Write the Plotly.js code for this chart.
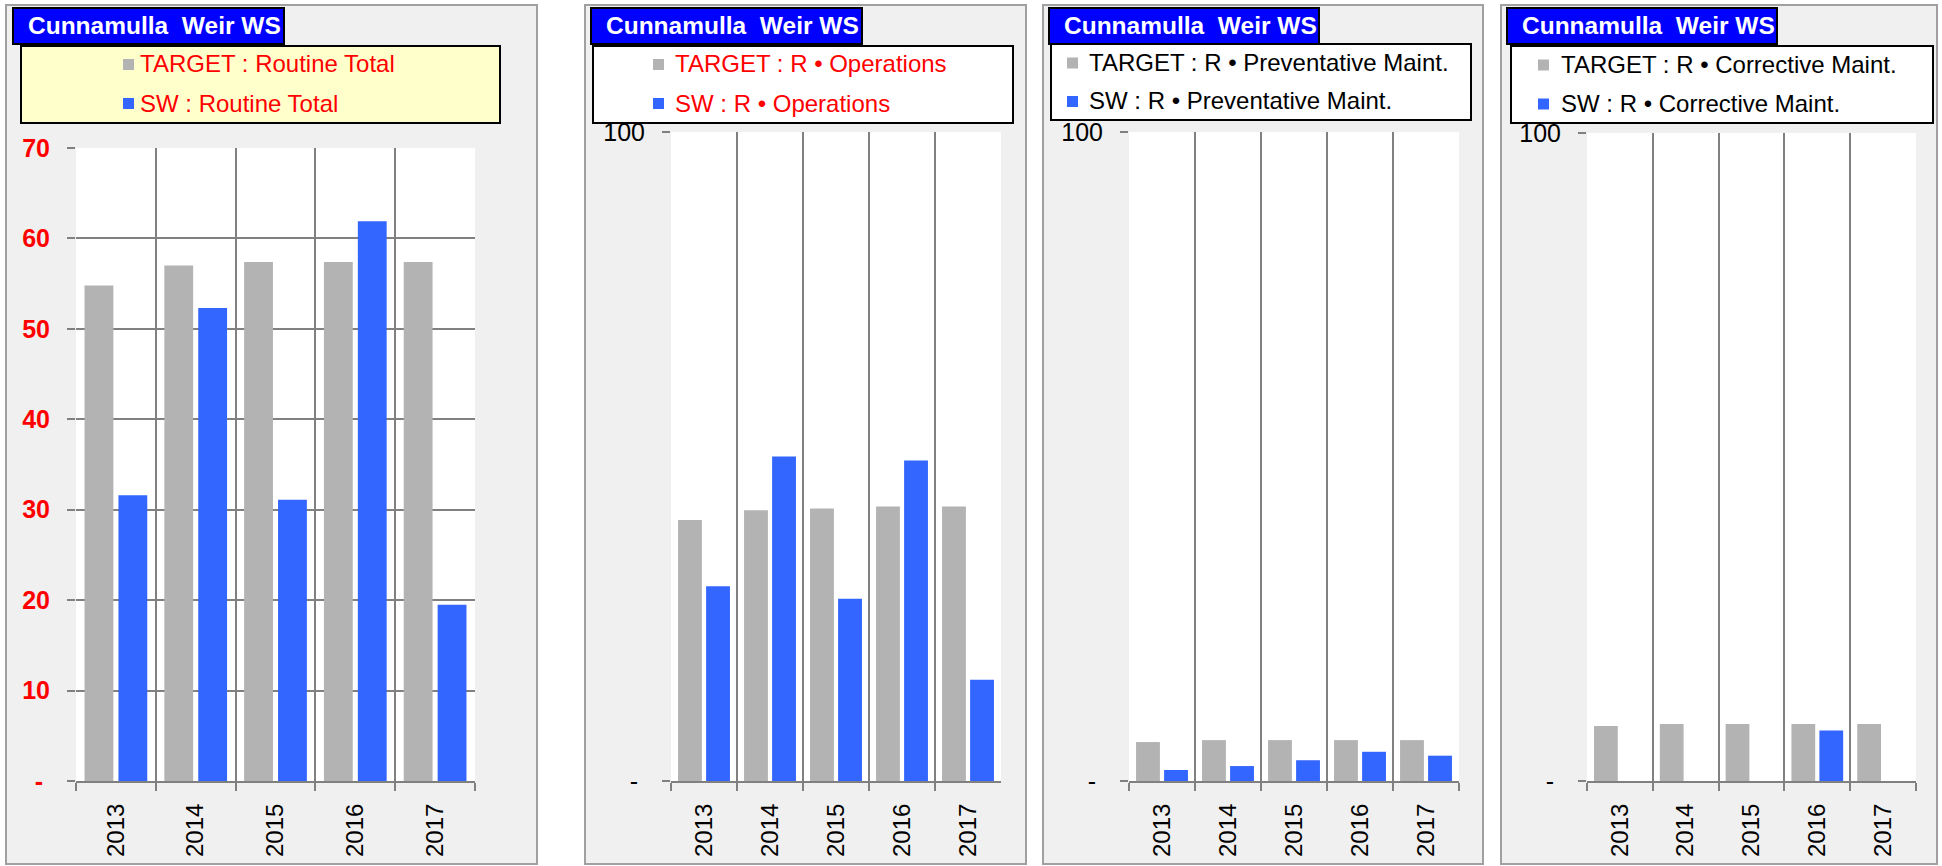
<!DOCTYPE html>
<html><head><meta charset="utf-8">
<script src="https://cdn.plot.ly/plotly-3.0.1.min.js"></script>
<style>html,body{margin:0;padding:0;background:#fff}#chart{width:1942px;height:866px}</style>
</head><body><div id="chart"></div>
<script>
// ---- data ----
const years = ['2013', '2014', '2015', '2016', '2017'];
const chartTitle = 'Cunnamulla\u00a0 Weir WS';
const seriesPrefixes = ['TARGET : ', 'SW : '];
const panelLabels = ['Routine Total', 'R \u2022 Operations', 'R \u2022 Preventative Maint.', 'R \u2022 Corrective Maint.'];
const totalTarget = [54.8, 57.0, 57.4, 57.4, 57.4];
const totalSW     = [31.6, 52.3, 31.1, 61.9, 19.5];
const opsTarget   = [40.2, 41.7, 42.0, 42.3, 42.3];
const opsSW       = [30.0, 50.0, 28.1, 49.4, 15.6];
const pmTarget    = [6.0, 6.3, 6.3, 6.3, 6.3];
const pmSW        = [1.7, 2.3, 3.2, 4.5, 3.9];
const cmTarget    = [8.5, 8.8, 8.8, 8.8, 8.8];
const cmSW        = [0, 0, 0, 7.8, 0];
const totalTickVals = [0, 10, 20, 30, 40, 50, 60, 70];
const totalTickText = ['-\u00a0', '10', '20', '30', '40', '50', '60', '70'];
const pctTickVals = [0, 100];
const pctTickText = ['-\u00a0', '100'];

// ---- geometry (px) ----
const W = 1942, H = 866;
const px = x => x / W;
const py = y => 1 - y / H;
const FONT = 'Liberation Sans, Arial, sans-serif';
const GRID = '#808080';
const GRAY = '#b3b3b3', BLUE = '#3366ff';

const panels = [
  {frame:[6,537], plot:[76,475,148,781], title:[13,284], titleCx:154, legend:[21,500,46,123], legBg:'#ffffcc',
   mark:123, text:140, rows:[64.5,103.5], legFont:24, legColor:'#ff0000', titleFont:24.5,
   target: totalTarget, sw: totalSW, yr:[0,70], tv: totalTickVals, tt: totalTickText,
   yfont:{family:FONT, size:25, color:'#ff0000', weight:'bold'}},
  {frame:[585,1026], plot:[671,1001,132,781], title:[591,862], titleCx:732, legend:[593,1013,46,123], legBg:'#ffffff',
   mark:653, text:675, rows:[64.5,103.5], legFont:24, legColor:'#ff0000', titleFont:24.5,
   target: opsTarget, sw: opsSW, yr:[0,100], tv: pctTickVals, tt: pctTickText,
   yfont:{family:FONT, size:25, color:'#000000'}},
  {frame:[1043,1483], plot:[1129,1459,132,781], title:[1049,1319], titleCx:1190, legend:[1051,1471,44,120], legBg:'#ffffff',
   mark:1067, text:1089, rows:[63,101.5], legFont:24, legColor:'#000000', titleFont:24.5,
   target: pmTarget, sw: pmSW, yr:[0,100], tv: pctTickVals, tt: pctTickText,
   yfont:{family:FONT, size:25, color:'#000000'}},
  {frame:[1501,1937], plot:[1587,1916,133,781], title:[1507,1777], titleCx:1648, legend:[1511,1933,46,123], legBg:'#ffffff',
   mark:1538, text:1561, rows:[65,104], legFont:24, legColor:'#000000', titleFont:24.5,
   target: cmTarget, sw: cmSW, yr:[0,100], tv: pctTickVals, tt: pctTickText,
   yfont:{family:FONT, size:25, color:'#000000'}}
];

const traces = [];
const shapes = [];
const annotations = [];
const layout = {
  width: W, height: H,
  margin: {l:0, r:0, t:0, b:0},
  paper_bgcolor: '#ffffff',
  plot_bgcolor: 'rgba(0,0,0,0)',
  showlegend: false,
  barmode: 'group',
  bargap: 0.15,
  bargroupgap: 0.15,
  font: {family: FONT, color: '#000'},
  hovermode: false
};

panels.forEach((p, i) => {
  const n = i === 0 ? '' : String(i + 1);
  const xa = 'x' + n, ya = 'y' + n;
  [[seriesPrefixes[0], p.target, GRAY], [seriesPrefixes[1], p.sw, BLUE]].forEach(([pre, vals, col]) => {
    traces.push({type:'bar', x: years, y: vals, name: pre + panelLabels[i], xaxis: xa, yaxis: ya,
      marker:{color: col, line:{width: 0}}});
  });
  const [x0, x1, y0, y1] = p.plot;
  layout['xaxis' + n] = {
    domain:[px(x0), px(x1)], anchor: ya, type:'category', range:[-0.5, 4.5],
    tickson:'boundaries', showgrid:true, gridcolor: GRID, gridwidth: 2,
    ticks:'outside', ticklen: 8, tickwidth: 2, tickcolor: GRID,
    showline:true, linecolor: GRID, linewidth: 2,
    tickangle: -90, ticklabelstandoff: 11,
    tickfont:{family: FONT, size: 24, color:'#000'}, fixedrange:true
  };
  layout['yaxis' + n] = {
    domain:[py(y1), py(y0)], anchor: xa, range: p.yr,
    tickmode:'array', tickvals: p.tv, ticktext: p.tt,
    showgrid: true, gridcolor: GRID, gridwidth: 2, zeroline:false,
    ticks:'outside', ticklen: 8, tickwidth: 2, tickcolor: GRID,
    showline: false, ticklabelstandoff: 12,
    tickfont: p.yfont, fixedrange:true
  };
  // panel frame
  shapes.push({type:'rect', xref:'paper', yref:'paper', layer:'below',
    x0: px(p.frame[0]), x1: px(p.frame[1]), y0: py(5), y1: py(864),
    fillcolor:'#f0f0f0', line:{color:'#a0a0a0', width:2}});
  // white plot area
  shapes.push({type:'rect', xref:'paper', yref:'paper', layer:'below',
    x0: px(x0), x1: px(x1), y0: py(y0), y1: py(y1),
    fillcolor:'#ffffff', line:{width:0}});
  // title box
  shapes.push({type:'rect', xref:'paper', yref:'paper', layer:'above',
    x0: px(p.title[0]), x1: px(p.title[1]), y0: py(8), y1: py(44),
    fillcolor:'#0000ff', line:{color:'#000000', width:2}});
  annotations.push({xref:'paper', yref:'paper', x: px(p.titleCx), y: py(25.5), xanchor:'center', yanchor:'middle',
    text: chartTitle, showarrow:false, font:{family: FONT, size: p.titleFont, color:'#ffffff', weight:'bold'}});
  // legend box
  const [lx0, lx1, ly0, ly1] = p.legend;
  shapes.push({type:'rect', xref:'paper', yref:'paper', layer:'above',
    x0: px(lx0), x1: px(lx1), y0: py(ly0), y1: py(ly1),
    fillcolor: p.legBg, line:{color:'#000000', width:2}});
  [GRAY, BLUE].forEach((col, k) => {
    const cy = p.rows[k];
    shapes.push({type:'rect', xref:'paper', yref:'paper', layer:'above',
      x0: px(p.mark), x1: px(p.mark + 11), y0: py(cy - 5.5), y1: py(cy + 5.5),
      fillcolor: col, line:{width:0}});
    annotations.push({xref:'paper', yref:'paper', x: px(p.text - 2), y: py(cy - 0.5), xanchor:'left', yanchor:'middle',
      text: seriesPrefixes[k] + panelLabels[i], showarrow:false,
      font:{family: FONT, size: p.legFont, color: p.legColor}});
  });
});

layout.shapes = shapes;
layout.annotations = annotations;
Plotly.newPlot('chart', traces, layout, {displayModeBar:false, staticPlot:true});
</script>
</body></html>
